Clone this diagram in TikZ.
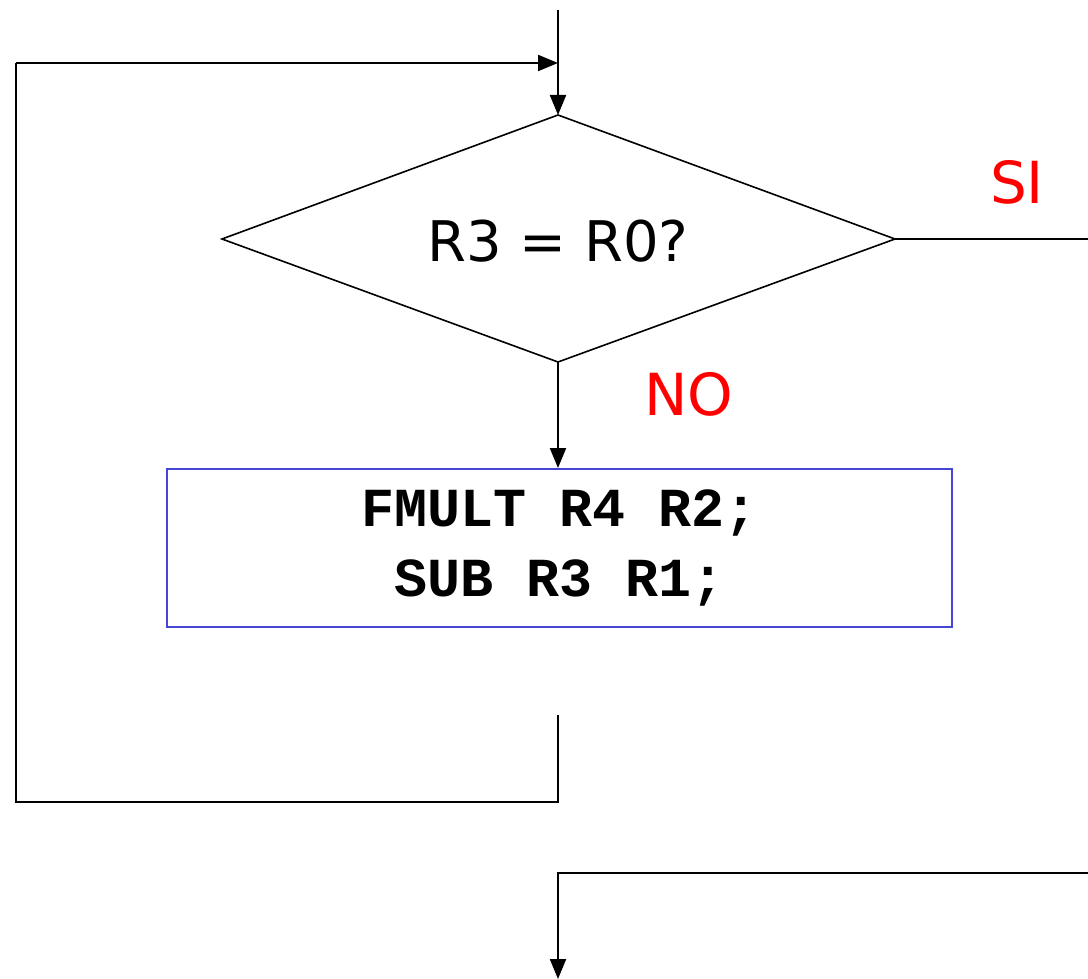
\documentclass[tikz,border=0pt]{standalone}
\usepackage{fontspec}
\setmainfont{DejaVu Sans}
\newfontfamily\codefont{Liberation Mono}
\usetikzlibrary{arrows.meta,shapes.geometric}
\definecolor{boxblue}{RGB}{70,70,210}
\tikzset{
  ln/.style={line width=2.2pt,black},
  arr/.style={ln,-{Triangle[length=20pt,width=16pt]}},
  lbl/.style={text=red,font=\fontsize{58}{62}\selectfont,inner sep=0pt},
}
\begin{document}
\begin{tikzpicture}[x=1pt,y=-1pt]
\useasboundingbox (0,0) rectangle (1088,979);
% diamond
\coordinate (dT) at (558,115);
\coordinate (dL) at (222,239);
\coordinate (dR) at (895,239);
\coordinate (dB) at (558,362);
\draw[line width=1.6pt] (dT) -- (dR) -- (dB) -- (dL) -- cycle;
\node[font=\fontsize{56}{60}\selectfont,inner sep=0pt] (cond) at (558,241) {R3 = R0?};
% box
\node[draw=boxblue,line width=1.6pt,minimum width=785pt,minimum height=158pt,inner sep=0pt,anchor=north west,align=center,
  font=\codefont\bfseries\fontsize{55}{70}\selectfont] (box) at (166,468) {FMULT R4 R2;\\SUB R3 R1;};
% coordinates
\coordinate (top) at (558,10);
\coordinate (join) at (558,63);
\coordinate (lt) at (16,63);
\coordinate (lb) at (16,802);
\coordinate (rb) at (558,802);
\coordinate (loopin) at (558,715);
\coordinate (rout) at (1088,239);
\coordinate (b1) at (1088,873);
\coordinate (b2) at (558,873);
\coordinate (bend) at (558,979);
% connectors
\draw[arr] (top) -- (dT);
\draw[arr] (lt) -- (join);
\draw[ln] (loopin) -- (rb) -- (lb) -- (lt);
\draw[arr] (dB) -- (dB |- box.north);
\draw[ln] (dR) -- (rout);
\draw[arr] (b1) -- (b2) -- (bend);
% labels
\node[lbl] (si) at (1017,182) {SI};
\node[lbl] (no) at (689,394) {NO};
\end{tikzpicture}
\end{document}
